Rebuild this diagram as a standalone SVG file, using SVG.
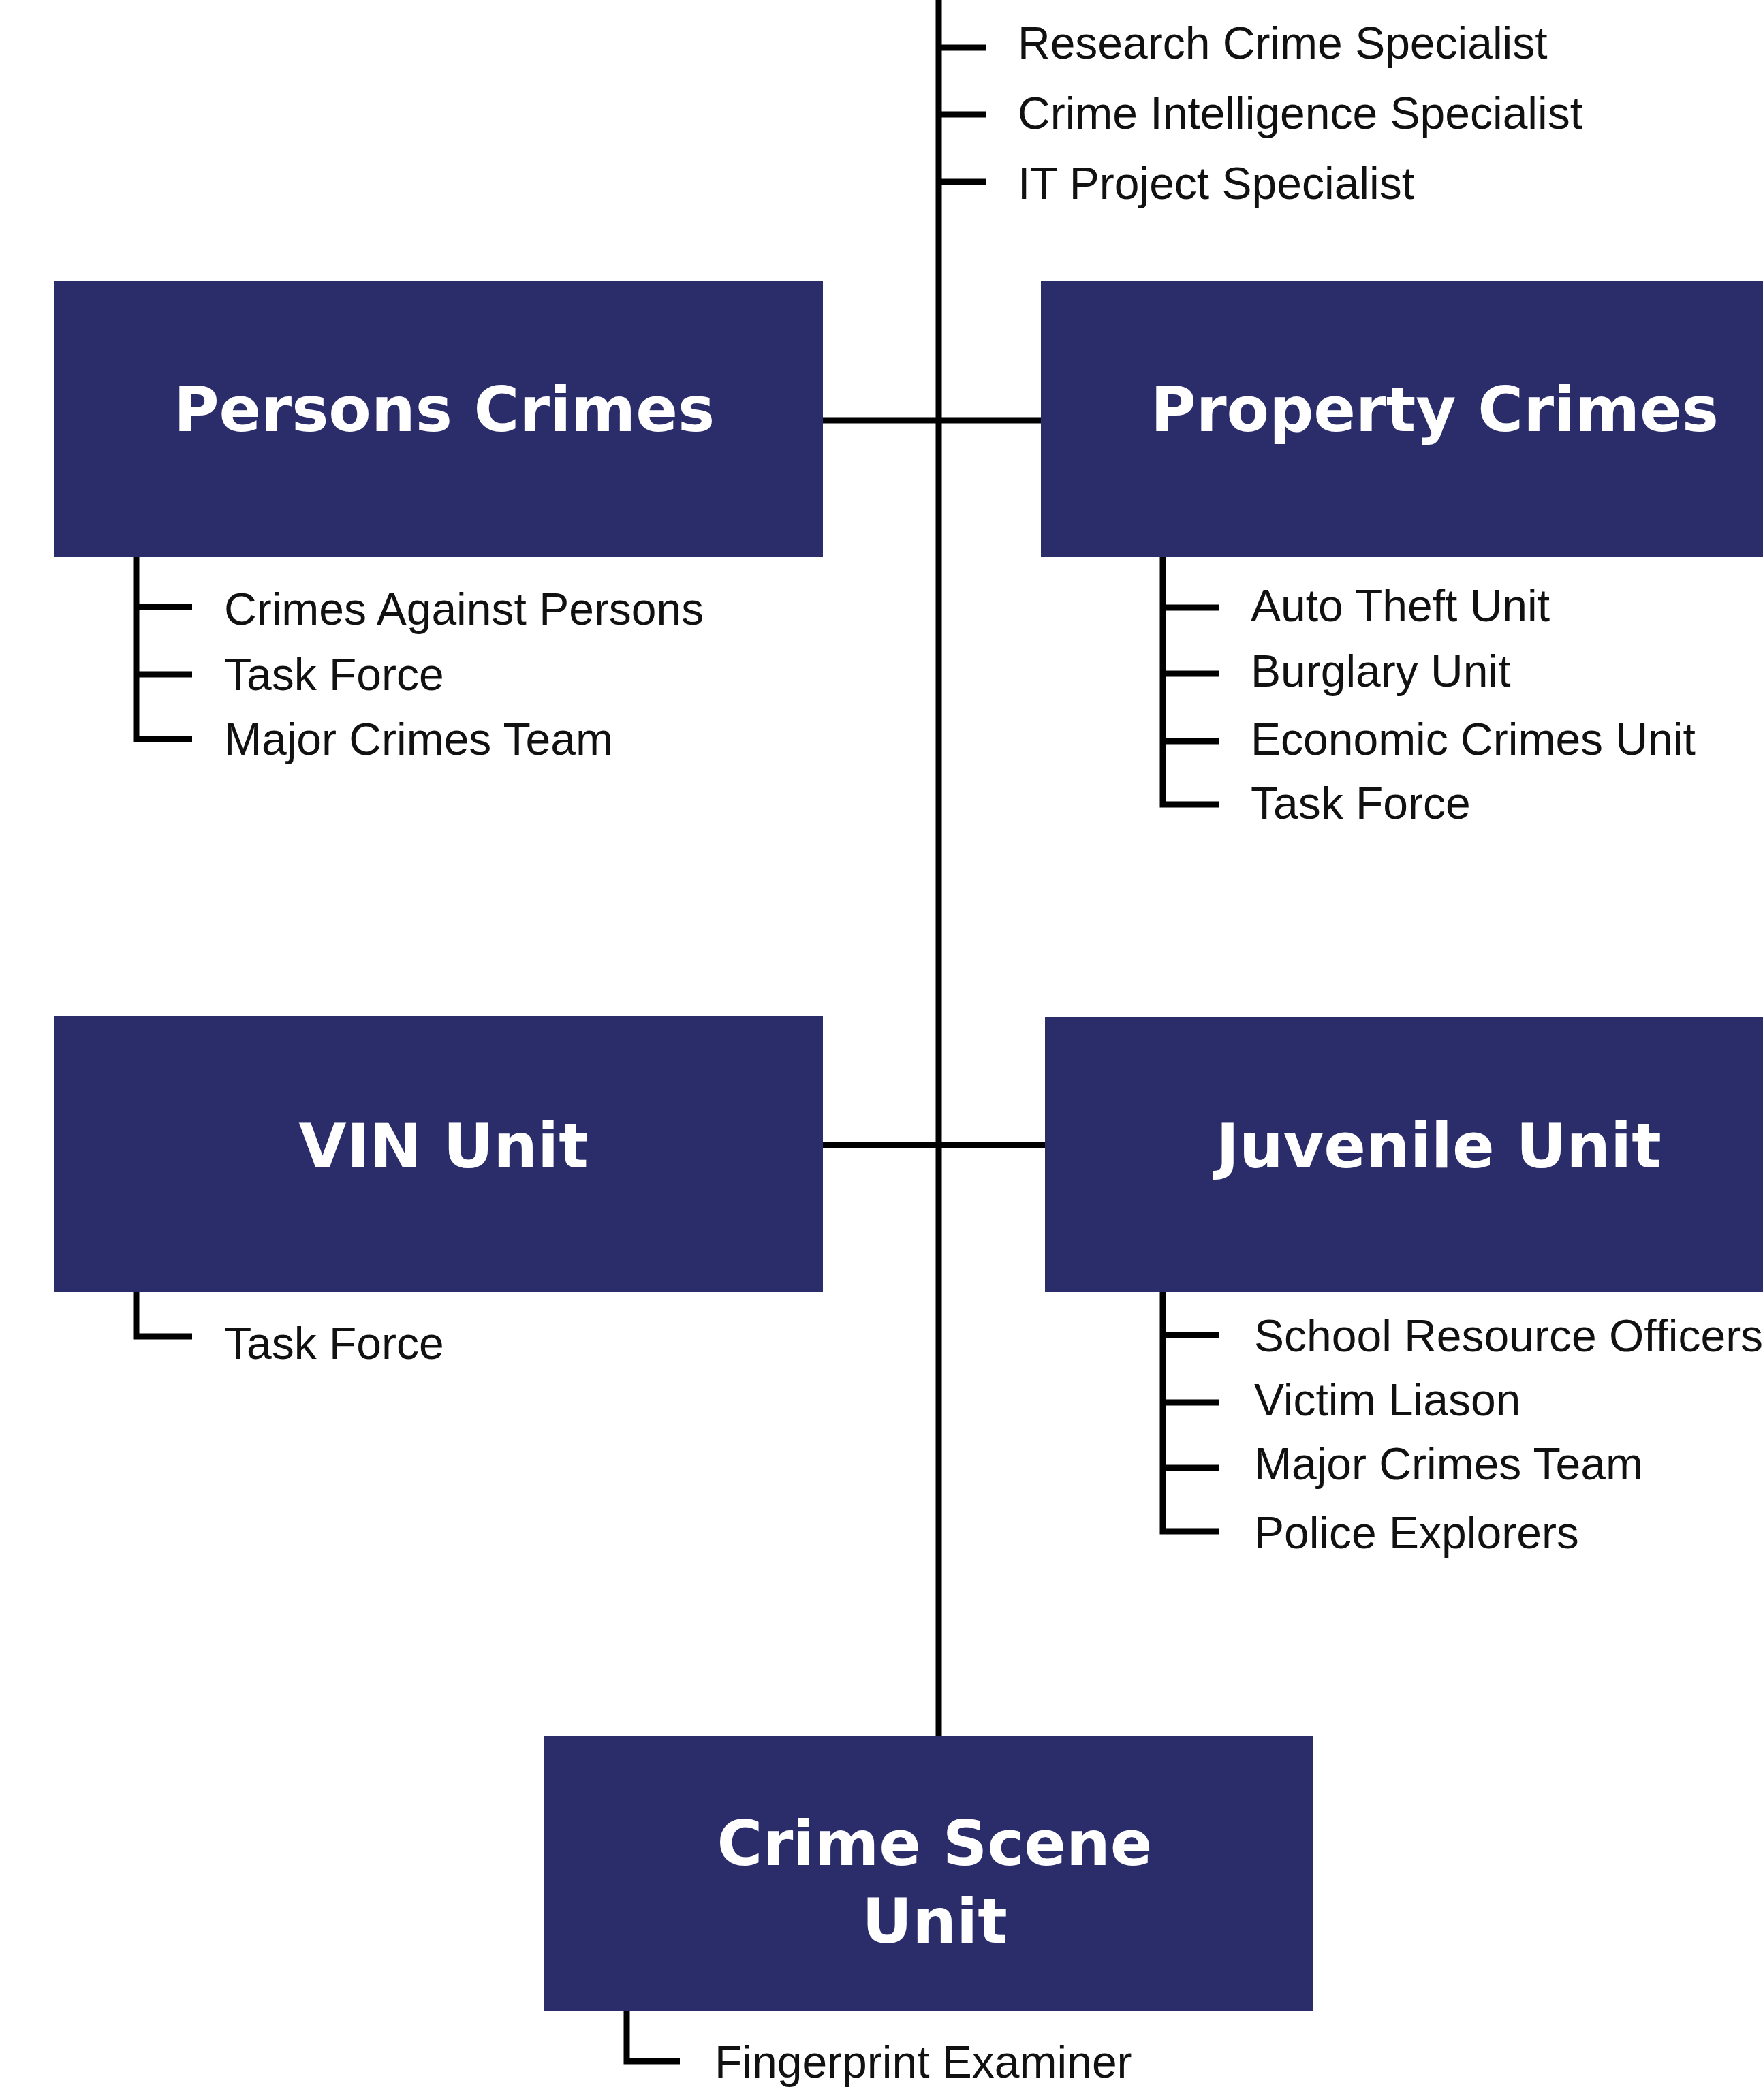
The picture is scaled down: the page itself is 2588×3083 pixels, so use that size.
<svg xmlns="http://www.w3.org/2000/svg" width="2588" height="3083" viewBox="0 0 2588 3083">
<style>
.box{fill:#2b2d6b}
.title{font-family:"DejaVu Sans",sans-serif;font-weight:bold;font-size:91px;fill:#ffffff;text-anchor:middle}
.item{font-family:"Liberation Sans",Arial,sans-serif;font-size:66px;fill:#111111}
.ln{stroke:#000000;stroke-width:9;fill:none;stroke-linecap:butt;stroke-linejoin:miter}
</style>
<rect x="0" y="0" width="2588" height="3083" fill="#ffffff"/>
<g id="connectors">
<line class="ln" x1="1378" y1="0" x2="1378" y2="2548"/>
<line class="ln" x1="1378" y1="70" x2="1448" y2="70"/>
<line class="ln" x1="1378" y1="168" x2="1448" y2="168"/>
<line class="ln" x1="1378" y1="267" x2="1448" y2="267"/>
<line class="ln" x1="1208" y1="617" x2="1528" y2="617"/>
<line class="ln" x1="1208" y1="1681" x2="1534" y2="1681"/>
<path class="ln" d="M200,818 V1085 H282"/>
<line class="ln" x1="200" y1="891" x2="282" y2="891"/>
<line class="ln" x1="200" y1="990" x2="282" y2="990"/>
<path class="ln" d="M1707,818 V1181 H1789"/>
<line class="ln" x1="1707" y1="892" x2="1789" y2="892"/>
<line class="ln" x1="1707" y1="989" x2="1789" y2="989"/>
<line class="ln" x1="1707" y1="1088" x2="1789" y2="1088"/>
<path class="ln" d="M200,1897 V1962 H282"/>
<path class="ln" d="M1707,1897 V2248 H1789"/>
<line class="ln" x1="1707" y1="1960" x2="1789" y2="1960"/>
<line class="ln" x1="1707" y1="2059" x2="1789" y2="2059"/>
<line class="ln" x1="1707" y1="2155" x2="1789" y2="2155"/>
<path class="ln" d="M920,2952 V3026 H998"/>
</g>
<g id="staff">
<text class="item" x="1494" y="86">Research Crime Specialist</text>
<text class="item" x="1494" y="189">Crime Intelligence Specialist</text>
<text class="item" x="1494" y="292">IT Project Specialist</text>
</g>
<g id="persons-crimes">
<rect class="box" x="79" y="413" width="1129" height="405"/>
<text class="title" x="652" y="633">Persons Crimes</text>
<text class="item" x="329" y="917">Crimes Against Persons</text>
<text class="item" x="329" y="1013">Task Force</text>
<text class="item" x="329" y="1108">Major Crimes Team</text>
</g>
<g id="property-crimes">
<rect class="box" x="1528" y="413" width="1129" height="405"/>
<text class="title" x="2106" y="633">Property Crimes</text>
<text class="item" x="1836" y="912">Auto Theft Unit</text>
<text class="item" x="1836" y="1008">Burglary Unit</text>
<text class="item" x="1836" y="1108">Economic Crimes Unit</text>
<text class="item" x="1836" y="1202">Task Force</text>
</g>
<g id="vin-unit">
<rect class="box" x="79" y="1492" width="1129" height="405"/>
<text class="title" x="651" y="1714">VIN Unit</text>
<text class="item" x="329" y="1995">Task Force</text>
</g>
<g id="juvenile-unit">
<rect class="box" x="1534" y="1493" width="1129" height="404"/>
<text class="title" x="2112" y="1714">Juvenile Unit</text>
<text class="item" x="1841" y="1984">School Resource Officers</text>
<text class="item" x="1841" y="2078">Victim Liason</text>
<text class="item" x="1841" y="2172">Major Crimes Team</text>
<text class="item" x="1841" y="2273">Police Explorers</text>
</g>
<g id="crime-scene-unit">
<rect class="box" x="798" y="2548" width="1129" height="404"/>
<text class="title" x="1372" y="2738">Crime Scene</text>
<text class="title" x="1372" y="2852">Unit</text>
<text class="item" x="1049" y="3050">Fingerprint Examiner</text>
</g>
</svg>
